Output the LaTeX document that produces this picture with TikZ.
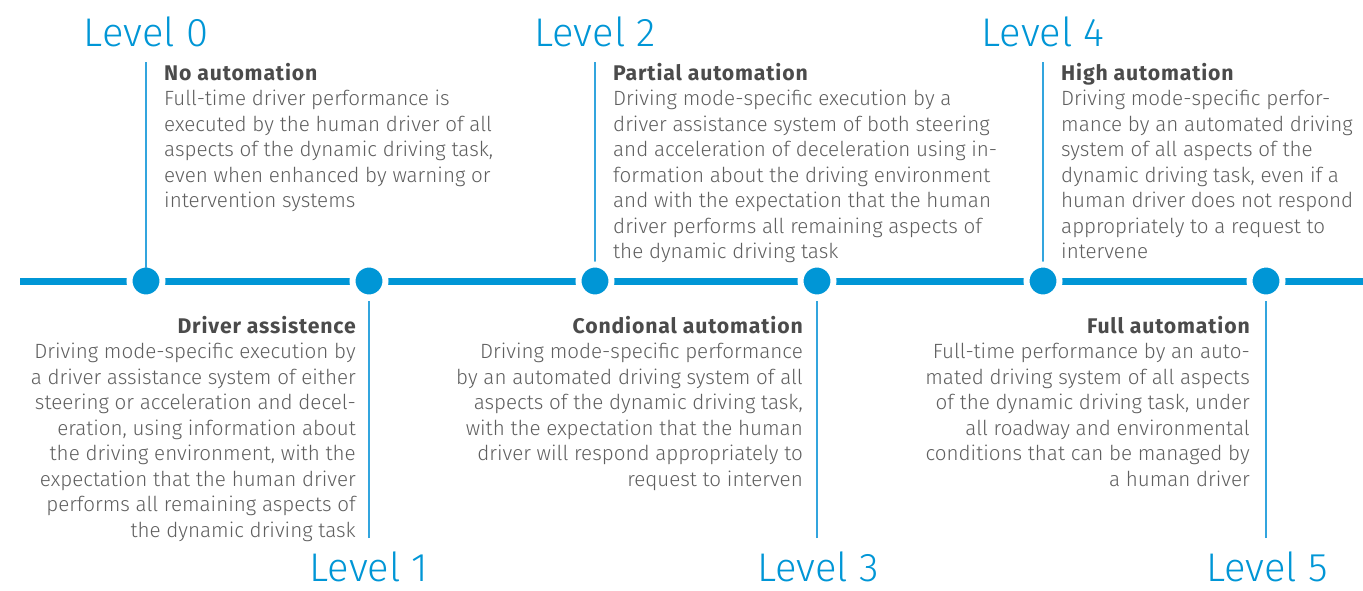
\documentclass[tikz,border=0pt]{standalone}
\usepackage{fontspec}
\setmainfont{Fira Sans}[UprightFont={* Light},BoldFont={* Bold},BoldFeatures={LetterSpace=4,Scale=1.03}]
\usetikzlibrary{calc}
\pgfdeclarelayer{background}
\pgfsetlayers{background,main}
\definecolor{bblue}{RGB}{0,150,214}
\definecolor{vblue}{RGB}{50,165,222}
\definecolor{tgray}{RGB}{95,95,95}
\definecolor{hgray}{RGB}{75,75,75}
\tikzset{
  lvl/.style={font=\fontsize{40}{44}\selectfont, text=bblue, inner sep=0, anchor=base},
  dot/.style={circle, draw=white, line width=6pt, fill=bblue, minimum size=33pt, inner sep=0},
  axis/.style={draw=bblue, line width=7pt},
  vline/.style={draw=vblue, line width=2pt},
  desc/.style={font=\fontsize{20.6}{25.5}\selectfont, text=tgray, inner sep=0, text width=470pt},
  descl/.style={desc, align=flush left, anchor=base west},
  descr/.style={desc, align=flush right, anchor=base east},
}
\newcommand{\ttl}[1]{{\bfseries\color{hgray}#1}}
\begin{document}
\begin{tikzpicture}[x=1pt,y=-1pt]
\useasboundingbox (0,0) rectangle (1363,590);
% dots
\node[dot] (c0) at (146,281) {};
\node[dot] (c1) at (369,281) {};
\node[dot] (c2) at (595,281) {};
\node[dot] (c3) at (817,281) {};
\node[dot] (c4) at (1043,281) {};
\node[dot] (c5) at (1266,281) {};
\coordinate (L) at (20,281);
\coordinate (R) at (1363,281);
\coordinate (t0) at (146,62);
\coordinate (t2) at (595,62);
\coordinate (t4) at (1043,62);
\coordinate (b1) at (369,538);
\coordinate (b3) at (817,538);
\coordinate (b5) at (1266,538);
\begin{pgfonlayer}{background}
\fill[white] (0,0) rectangle (1363,590);
\draw[axis] (L) -- (R);
\draw[vline] (t2) -- (c2);
\draw[vline] (t4) -- (c4);
\draw[vline] (b1) -- (c1);
\draw[vline] (b3) -- (c3);
\draw[vline] (b5) -- (c5);
\end{pgfonlayer}
\draw[vline] (t0) -- ([yshift=13.5pt]c0.center);
% level labels
\node[lvl] (l0) at (146,46) {Level 0};
\node[lvl] (l2) at (595,46) {Level 2};
\node[lvl] (l4) at (1043,46) {Level 4};
\node[lvl] (l1) at (369,581) {Level 1};
\node[lvl] (l3) at (818,581) {Level 3};
\node[lvl] (l5) at (1267,581) {Level 5};
% descriptions
\node[descl] (d0) at (164,80) {\ttl{No automation}\\
Full-time driver performance is\\
executed by the human driver of all\\
aspects of the dynamic driving task,\\
even when enhanced by warning or\\
intervention systems};
\node[descl] (d2) at (613,80) {\ttl{Partial automation}\\
Driving mode-specific execution by a\\
driver assistance system of both steering\\
and acceleration of deceleration using in-\\
formation about the driving environment\\
and with the expectation that the human\\
driver performs all remaining aspects of\\
the dynamic driving task};
\node[descl] (d4) at (1061,80) {\ttl{High automation}\\
Driving mode-specific perfor-\\
mance by an automated driving\\
system of all aspects of the\\
dynamic driving task, even if a\\
human driver does not respond\\
appropriately to a request to\\
intervene};
\node[descr] (d1) at (356,333) {\ttl{Driver assistence}\\
Driving mode-specific execution by\\
a driver assistance system of either\\
steering or acceleration and decel-\\
eration, using information about\\
the driving environment, with the\\
expectation that the human driver\\
performs all remaining aspects of\\
the dynamic driving task};
\node[descr] (d3) at (803,333) {\ttl{Condional automation}\\
Driving mode-specific performance\\
by an automated driving system of all\\
aspects of the dynamic driving task,\\
with the expectation that the human\\
driver will respond appropriately to\\
request to interven};
\node[descr] (d5) at (1250,333) {\ttl{Full automation}\\
Full-time performance by an auto-\\
mated driving system of all aspects\\
of the dynamic driving task, under\\
all roadway and environmental\\
conditions that can be managed by\\
a human driver};
\end{tikzpicture}
\end{document}
